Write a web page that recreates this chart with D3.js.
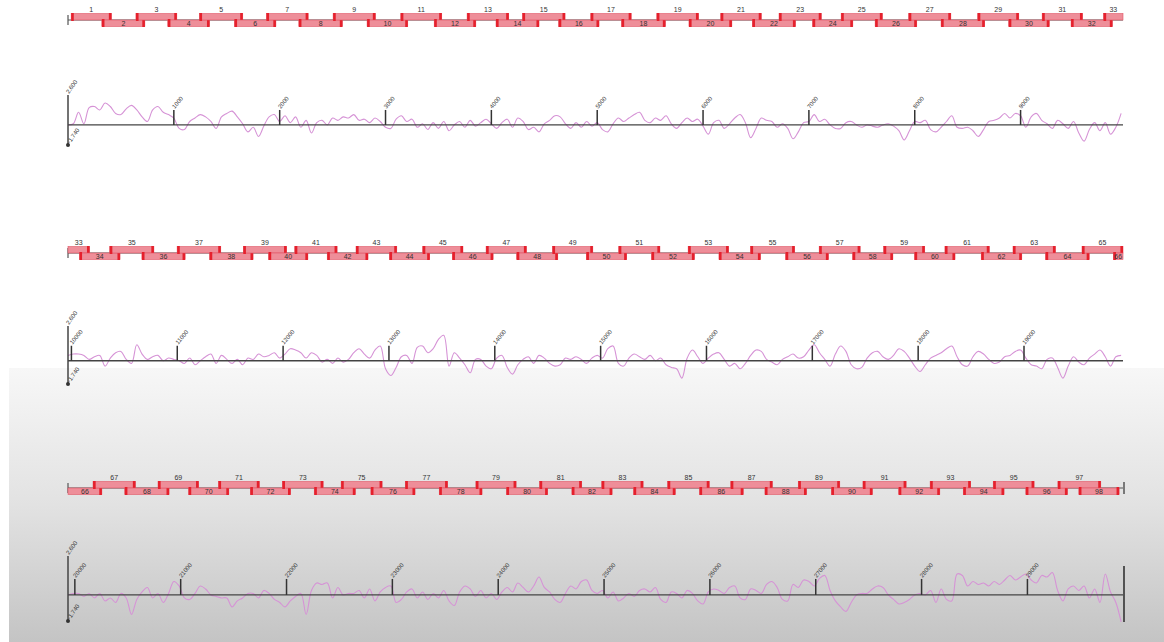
<!DOCTYPE html>
<html><head><meta charset="utf-8">
<script src="https://cdn.jsdelivr.net/npm/d3@7"></script>
<style>body{margin:0;background:#fff}svg{display:block}text{font-family:"Liberation Sans",Arial,sans-serif}</style>
</head><body><svg id="c" width="1164" height="642"></svg>
<script>
const genomeLength = 29903;
const panelCount = 3;
const sigStep = 50;
const yMin = -1.74, yMax = 2.6;
const yTopLabel = "2.600", yBotLabel = "-1.740";

const ampStart = [30,320,642,943,1242,1573,1875,2181,2505,2826,
3144,3460,3771,4044,4294,4636,4939,5230,5563,5867,
6167,6466,6718,7035,7305,7626,7943,8249,8595,8888,
9204,9477,9784,10076,10362,10666,10999,11306,11624,11863,
12110,12417,12689,13005,13319,13599,13918,14207,14545,14865,
15171,15481,15827,16118,16416,16748,17065,17381,17674,17966,
18253,18596,18896,19204,19548,19844,20172,20472,20786,21075,
21357,21658,21961,22262,22516,22797,23122,23443,23789,24078,
24391,24696,24978,25279,25601,25902,26197,26520,26835,27148,
27446,27784,28081,28394,28677,28985,29288,29486];
const ampEnd = [410,726,1028,1337,1651,1964,2269,2592,2904,3210,
3531,3853,4164,4450,4696,5017,5321,5644,5957,6272,
6550,6873,7117,7415,7694,8019,8341,8661,8983,9271,
9585,9867,10171,10459,10779,11074,11411,11716,12033,12234,
12510,12802,13074,13385,13699,13984,14299,14595,14926,15246,
15560,15886,16209,16510,16833,17152,17452,17761,18062,18348,
18672,18979,19297,19616,19939,20255,20572,20890,21169,21455,
21743,22038,22346,22650,22903,23214,23522,23847,24169,24467,
24789,25076,25369,25673,25994,26315,26590,26913,27227,27535,
27854,28172,28464,28779,29063,29378,29693,29866];
const primerLen = 24;

const sig1 = [0,0.1,1.1,0.1,1.5,1.6,1.3,1.9,1.6,1.0,
0.9,1.4,1.7,1.3,0.7,0.3,1.3,1.6,1.1,0.9,
0.6,-0.3,-0.4,0.3,0.6,0.9,0.7,0.3,-0.3,0.7,
1.0,1.2,0.7,0.1,-0.6,-0.2,-1.0,-0.1,0.7,0.9,
0.3,0.8,0.2,0.7,-0.2,0.4,-0.7,0.2,0.4,0,
0.6,0.4,0.7,0.6,0.9,0.4,0.5,0.2,0.6,0.3,
-0.2,-0.3,0.5,0.8,0.3,0.5,-0.2,0.1,-0.4,0.2,
-0.3,0.3,-0.5,0,0.3,-0.2,0.4,-0.1,0.2,0.5,
0.1,-0.3,0.2,0.5,-0.2,0.6,0.3,-0.4,-0.2,-0.6,
0.1,0.4,0.8,0.7,0.1,-0.3,0.2,-0.2,0.3,-0.1,
0.2,-0.4,-0.6,0.1,0.6,0.3,0.6,0.9,1.1,0.4,
0.2,0.6,0.4,0.8,0.1,-0.3,0.2,0.6,0.3,0.5,
-0.1,-0.8,0.2,0.4,-0.3,0.1,0.6,0.9,0.2,-1.1,
-0.3,0.6,0.4,0.3,-0.2,0.1,-0.3,-1.2,-0.6,0.2,
0.3,0.9,0.3,0.5,0,-0.3,-0.3,0.2,0.3,0,
-0.2,0,-0.1,-0.2,0,0.1,-0.1,-0.5,-1.3,-0.5,
0.3,0.2,0.4,-0.4,-0.6,-0.2,0.3,0.8,-0.2,-0.3,
-0.2,-0.5,-1.0,-0.4,0.3,0.4,0.6,1.0,0.6,1.0,
0.8,-0.2,0.7,1.0,0.4,0.1,-0.3,0.4,0.1,-0.3,
0.3,-0.7,-1.4,-0.4,0.2,-0.5,0.2,-0.8,-0.2,1.0];

const sig2 = [0.4,0.5,0.5,0.4,0.1,0.3,0.4,-0.4,0.2,0.6,
0.7,0.1,-0.2,1.2,0.5,0.1,0.3,0.4,0,0.2,
0.1,0,-0.2,0.2,-0.3,0,0.3,0.5,-0.2,0.4,
0.1,-0.2,0.1,-0.3,0.2,0.1,0.5,0.3,0.4,0.6,
0.2,0.5,0.9,0.8,0.6,0.2,0.6,0.4,-0.1,0.1,
-0.2,0.2,-0.1,0.1,0.6,0.9,0.5,0.2,0.8,1.1,
-0.6,-1.1,-0.5,0.3,0.4,-0.2,1.0,1.1,0.6,0.9,
1.6,1.9,-0.4,0.6,0.2,-0.3,-0.9,0.1,0.1,-0.4,
-0.6,0.2,0.4,-0.5,-1.0,-0.3,0.1,0.3,-0.2,0.4,
0.2,-0.2,-0.4,-0.3,0.2,0.1,0.3,0.1,-0.2,0.2,
0.4,0.2,0.9,1.1,-0.2,-0.4,0.2,0.5,0.3,0.1,
0.4,0,0.2,-0.3,-0.5,-0.6,-1.3,0.2,0.8,0.3,
-0.2,0.2,0.5,0.6,0.1,-0.4,-0.2,-0.6,-0.2,0.4,
0.8,0.7,0.1,-0.1,-0.3,0.1,0.3,0.5,0.2,0.3,
0.8,1.2,0.6,0.1,-0.4,0.5,1.1,0.7,-0.3,-0.6,
-0.5,0.2,0.6,0.7,0.3,0.1,0.4,0.9,0.7,0.2,
-0.4,-0.8,-0.3,0.2,0.4,0.6,0.9,1.1,0.3,-0.3,
-0.4,0.3,0.7,0.5,0.1,-0.2,-0.1,0.3,0.4,0.7,
0.8,0.2,-0.3,-0.4,-0.6,0.1,0.2,-0.5,-1.3,-0.4,
0.3,-0.1,-0.3,0.2,0.5,0.8,0.3,-0.4,0.3,0.4];

const sig3 = [0,0.1,0.1,-0.1,0.1,-0.2,0.1,-0.4,-0.2,-0.5,
0.1,-0.2,-1.3,-0.3,0.2,0.5,-0.2,0.1,-0.5,0.1,
0.9,0.6,-0.2,-0.3,0.1,0.6,0.4,0,-0.1,-0.2,
-0.2,-0.8,-0.4,-0.2,0.1,0.1,-0.2,0.3,0.1,-0.3,
-0.5,-0.8,-0.4,-0.1,0.1,-1.3,0.3,0.8,0.7,0.8,
-0.2,0.5,0,0.1,0.1,0.3,-0.2,0.4,-0.4,0.2,
0.5,0.6,-0.5,-0.3,0.2,0.4,-0.2,0.2,-0.3,0.1,
-0.2,0.3,-0.4,-0.7,0.2,0.6,0.4,-0.1,0.3,-0.2,
0.1,-0.3,0.2,0.5,0.2,0.8,0.5,0.2,0.6,1.2,
0.5,0.2,-0.3,-0.5,0.1,0.6,0.4,0.9,1.0,0.3,
0.1,0.3,-0.2,0.2,-0.4,-0.2,0.1,-0.1,0.3,0.4,
0.2,0.5,-0.3,-0.5,0.2,0.1,-0.2,0.3,0.1,-0.4,
-0.6,0.2,0.4,0.3,0.1,0.5,0.6,-0.2,-0.3,0.4,
0.3,0.1,0.7,0.9,0.5,-0.3,-0.4,0.7,0.5,1.0,
0.9,0.6,1.1,1.3,0.3,-0.4,-0.8,-1.1,-0.5,0,
0.1,0.1,0.4,0.6,0.5,0,-0.3,-0.6,-0.5,-0.3,
0,0.1,0,0.3,-0.5,0.4,-0.3,-0.4,1.4,1.3,
0.6,0.9,0.7,0.8,0.6,0.9,0.7,1.0,1.3,1.0,
1.2,1.4,1.0,0.8,1.3,1.2,1.5,0.3,-0.4,0.4,
0.6,0.3,0.6,-0.2,0.4,-0.5,1.4,0.2,-0.5,-1.8];
const signals = [sig1, sig2, sig3];

const W = 1164, H = 642;
const xLeft = 68, xRight = 1123;
const layout = [
  {geneY: 20,  top: 95,  bot: 145, tickH: 15},
  {geneY: 253, top: 326, bot: 384, tickH: 15},
  {geneY: 488, top: 556, bot: 621, tickH: 16}
];
const boxH = 6.5;
const minVisibleBp = 40;

const svg = d3.select("#c");
const defs = svg.append("defs");
const grad = defs.append("linearGradient").attr("id","bg").attr("x1",0).attr("y1",0).attr("x2",0).attr("y2",1);
grad.append("stop").attr("offset","0").attr("stop-color","#f7f7f7");
grad.append("stop").attr("offset","0.5").attr("stop-color","#e2e2e2");
grad.append("stop").attr("offset","1").attr("stop-color","#c4c4c4");
svg.append("rect").attr("x",0).attr("y",0).attr("width",W).attr("height",H).attr("fill","#fff");
svg.append("rect").attr("x",9).attr("y",368).attr("width",W-9).attr("height",H-368).attr("fill","url(#bg)");

const seg = genomeLength / panelCount;
const amps = ampStart.map((s,i)=>({id:i+1, s, e: ampEnd[i]}));

layout.forEach((L, p) => {
  const d0 = seg * p, d1 = seg * (p+1);
  const x = d3.scaleLinear().domain([d0, d1]).range([xLeft, xRight]);
  const y = d3.scaleLinear().domain([yMin, yMax]).range([L.bot, L.top]);
  const g = svg.append("g");

  // ---- amplicon track ----
  const gt = g.append("g");
  gt.append("line").attr("x1", xLeft).attr("x2", xRight).attr("y1", L.geneY).attr("y2", L.geneY)
    .attr("stroke","#555").attr("stroke-width",1.2);
  gt.append("line").attr("x1", xLeft).attr("x2", xLeft).attr("y1", L.geneY-5).attr("y2", L.geneY+5)
    .attr("stroke","#555").attr("stroke-width",1.2);
  if (p === panelCount-1) {
    gt.append("line").attr("x1", xRight+1).attr("x2", xRight+1).attr("y1", L.geneY-6).attr("y2", L.geneY+6)
      .attr("stroke","#555").attr("stroke-width",1.5);
  }
  const vis = amps.filter(a => Math.min(a.e, d1) - Math.max(a.s, d0) > minVisibleBp);
  vis.forEach(a => {
    const up = a.id % 2 === 1;
    const s = Math.max(a.s, d0), e = Math.min(a.e, d1);
    const x0 = x(s), x1 = x(e);
    const by = up ? L.geneY - boxH : L.geneY;
    gt.append("rect").attr("x", x0).attr("y", by).attr("width", Math.max(0, x1-x0)).attr("height", boxH)
      .attr("fill","#ee8e99").attr("stroke","#e25564").attr("stroke-width",0.6);
    const my = up ? L.geneY - boxH - 0.5 : L.geneY - 1;
    [[a.s, a.s+primerLen],[a.e-primerLen, a.e]].forEach(([ps,pe]) => {
      if (pe <= d0 || ps >= d1) return;
      const px0 = x(Math.max(ps,d0)), px1 = x(Math.min(pe,d1));
      const w = Math.max(2.6, px1-px0);
      gt.append("rect").attr("x", Math.min(px0, xRight - w)).attr("y", my).attr("width", w).attr("height", boxH+1.5)
        .attr("fill","#e5202c");
    });
    const cx = (x0 + x1) / 2;
    gt.append("text").attr("x", cx).attr("y", up ? L.geneY - boxH - 1.5 : L.geneY + 5.5)
      .attr("text-anchor","middle").attr("font-size", 7).attr("fill","#333").text(a.id);
  });

  // ---- signal track ----
  const base = y(0);
  const data = signals[p].map((v,i)=>({pos: d0 + i*sigStep, v}));
  const line = d3.line().x(d=>x(d.pos)).y(d=>y(d.v)).curve(d3.curveCatmullRom);
  g.append("path").datum(data).attr("d", line).attr("fill","none")
    .attr("stroke","#d693d6").attr("stroke-width",1.1);

  g.append("line").attr("x1", xLeft).attr("x2", xRight).attr("y1", base).attr("y2", base)
    .attr("stroke","#444").attr("stroke-width",1.3);
  g.append("line").attr("x1", xLeft).attr("x2", xLeft).attr("y1", L.top).attr("y2", L.bot)
    .attr("stroke","#444").attr("stroke-width",1.5);
  g.append("circle").attr("cx", xLeft).attr("cy", L.bot).attr("r", 2).attr("fill","#333");
  g.append("text").attr("transform", `translate(${xLeft+1},${L.top-1}) rotate(-55)`)
    .attr("font-size",6).attr("fill","#333").text(yTopLabel);
  g.append("text").attr("transform", `translate(${xLeft+2},${L.bot-1}) rotate(-55)`)
    .attr("font-size",6).attr("fill","#333").text(yBotLabel);
  if (p === panelCount-1) {
    g.append("line").attr("x1", xRight+1).attr("x2", xRight+1).attr("y1", L.top+10).attr("y2", L.bot+1)
      .attr("stroke","#444").attr("stroke-width",1.8);
  }
  const ticks = d3.range(1000, genomeLength, 1000).filter(t => t > d0 && t < d1);
  ticks.forEach(t => {
    const tx = x(t);
    g.append("line").attr("x1", tx).attr("x2", tx).attr("y1", base).attr("y2", base - L.tickH)
      .attr("stroke","#333").attr("stroke-width",1.5);
    g.append("text").attr("transform", `translate(${tx+1},${base - L.tickH - 1}) rotate(-50)`)
      .attr("font-size",6).attr("fill","#333").text(d3.format("d")(t));
  });
});
</script></body></html>
